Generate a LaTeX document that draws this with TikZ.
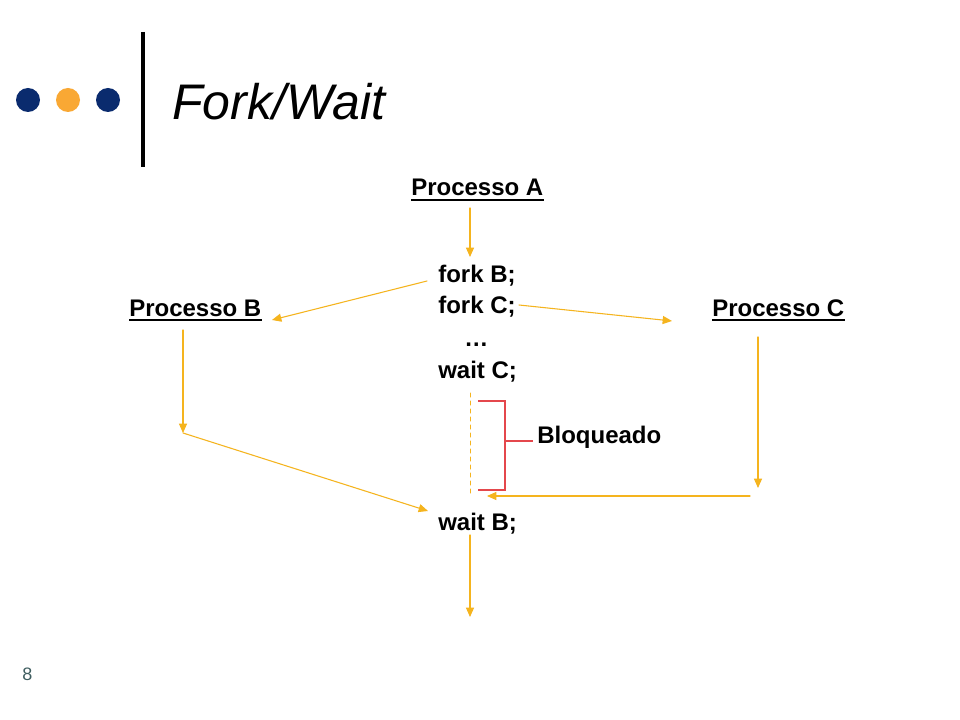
\documentclass[tikz,border=0pt]{standalone}
\usepackage{fontspec}
\setmainfont{Liberation Sans}
\usetikzlibrary{arrows.meta}
\definecolor{flowgold}{HTML}{F5B41E}
\definecolor{dotnavy}{HTML}{0A2B6E}
\definecolor{dotorange}{HTML}{F9A834}
\definecolor{blockred}{HTML}{E4474C}
\definecolor{pagegray}{HTML}{3F5E60}
\begin{document}
\begin{tikzpicture}[
	x=0.75pt,y=-0.75pt,
	line cap=round,
	line join=round,
	flow/.style={flowgold,line width=0.8pt,-{Triangle[length=7pt,width=6pt]}},
	label/.style={font=\bfseries\fontsize{18}{24}\selectfont,inner sep=0pt,anchor=base west},
	procname/.style={label}
	]
	\fill[white] (0,0) rectangle (960,720);
	\useasboundingbox (0,0) rectangle (960,720);
	% header
	\fill[dotnavy] (28,100) circle[radius=12];
	\fill[dotorange] (68,100) circle[radius=12];
	\fill[dotnavy] (108,100) circle[radius=12];
	\draw[line width=3pt,line cap=butt] (143,32) -- (143,167);
	\node[inner sep=0pt,anchor=base west,font=\itshape\fontsize{37.5}{40}\selectfont] (title) at (172,120) {Fork/Wait};
	\node[inner sep=0pt,anchor=base west,font=\fontsize{13.5}{15}\selectfont,text=pagegray] (page) at (22,680) {8};
	% processes
	\node[procname] (pA) at (411,196) {Processo A};
	\node[procname] (pB) at (129,316) {Processo B};
	\node[procname] (pC) at (712,316) {Processo C};
	\foreach \p in {pA,pB,pC}
		\draw[line width=1.5pt,line cap=butt] ([yshift=-3pt]\p.base west) -- ([yshift=-3pt]\p.base east);
	\node[label,align=left] (code) at (438,378) {fork B;\\fork C;\\\hspace*{19.5pt}\ldots\\wait C;};
	\node[label] (waitB) at (438,530) {wait B;};
	\node[label] (block) at (537,443) {Bloqueado};
	% connector ends
	\coordinate (a0) at (470,208);
	\coordinate (a1) at (470,257);
	\coordinate (forkB) at (427,281);
	\coordinate (inB) at (272,320);
	\coordinate (forkC) at (519,305);
	\coordinate (inC) at (672,321);
	\coordinate (topB) at (183,330);
	\coordinate (midB) at (183,433);
	\coordinate (inW) at (428,511);
	\coordinate (topC) at (758,337);
	\coordinate (botC) at (758,488);
	\coordinate (retC) at (750,496);
	\coordinate (retW) at (487,496);
	\coordinate (d0) at (470,393);
	\coordinate (d1) at (470,495);
	\coordinate (e0) at (470,535);
	\coordinate (e1) at (470,617);
	% flow
	\draw[flow] (a0) -- (a1);
	\draw[flow] (forkB) -- (inB);
	\draw[flow] (forkC) -- (inC);
	\draw[flow] (topB) -- (midB);
	\draw[flow] (midB) -- (inW);
	\draw[flow] (topC) -- (botC);
	\draw[flow] (retC) -- (retW);
	\draw[flowgold,line width=0.75pt,dashed] (d0) -- (d1);
	\draw[flow] (e0) -- (e1);
	% blocked bracket
	\draw[blockred,line width=0.9pt,line cap=butt,line join=miter] (478,401) -- (505,401) -- (505,490) -- (478,490);
	\draw[blockred,line width=0.9pt,line cap=butt] (505,441) -- ([xshift=-3pt]block.west |- 505,441);
\end{tikzpicture}
\end{document}
